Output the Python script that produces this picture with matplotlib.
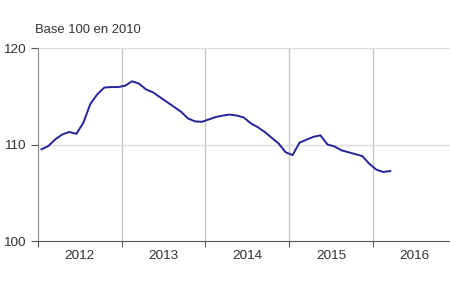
import matplotlib
matplotlib.use("Agg")
import matplotlib.pyplot as plt
import numpy as np

# Monthly index, Jan 2012 to Mar 2016 (base 100 in 2010)
values = [
    109.5, 109.85, 110.55, 111.05, 111.3, 111.1, 112.25, 114.2, 115.2, 115.9, 115.95, 115.95,  # 2012
    116.1, 116.55, 116.3, 115.7, 115.4, 114.9, 114.4, 113.9, 113.4, 112.7, 112.4, 112.35,  # 2013
    112.6, 112.85, 113.0, 113.1, 113.0, 112.8, 112.2, 111.8, 111.3, 110.7, 110.1, 109.2,  # 2014
    108.9, 110.2, 110.5, 110.8, 110.95, 110.0, 109.8, 109.4, 109.2, 109.0, 108.8, 108.0,  # 2015
    107.4, 107.15, 107.25,  # 2016
]
years = ["2012", "2013", "2014", "2015", "2016"]
y_ticks = [100, 110, 120]

plt.rcParams["font.family"] = ["Liberation Sans", "DejaVu Sans"]

fig = plt.figure(figsize=(4.5, 2.91), dpi=100)
ax = fig.add_axes([38 / 450, 50 / 291, 412 / 450, 193 / 291])

months = np.arange(len(values)) + 0.5
ax.plot(months, values, color="#24239a", linewidth=1.4, solid_joinstyle="round")

ax.set_xlim(0, 412 / 6.975)
ax.set_ylim(100, 120)

# year boundaries as major ticks, labels centred on the year
ax.set_xticks([12 * i for i in range(len(years))])
ax.set_xticklabels([])
ax.set_xticks([12 * i + 6 for i in range(len(years))], minor=True)
ax.set_xticklabels(years, minor=True)
ax.tick_params(axis="x", which="major", length=4, color="#555555", direction="out")
ax.tick_params(axis="x", which="minor", length=0, pad=6.5, labelsize=9.7, labelcolor="#333333")

ax.set_yticks(y_ticks)
ax.set_yticklabels([str(t) for t in y_ticks])
ax.tick_params(axis="y", length=5, color="#555555", pad=4, labelsize=9.7, labelcolor="#333333")

for x in [12, 24, 36, 48]:
    ax.axvline(x, color="#c8c8c8", linewidth=1.0, zorder=0)
for y in [110, 120]:
    ax.axhline(y, color="#dcdcdc", linewidth=1.0, zorder=0)

for side in ["top", "right"]:
    ax.spines[side].set_visible(False)
ax.spines["left"].set_color("#888888")
ax.spines["bottom"].set_color("#555555")

fig.text(35 / 450, 1 - 30 / 291, "Base 100 en 2010", fontsize=9.4, color="#333333", va="center")

fig.savefig("out.png", dpi=100)
